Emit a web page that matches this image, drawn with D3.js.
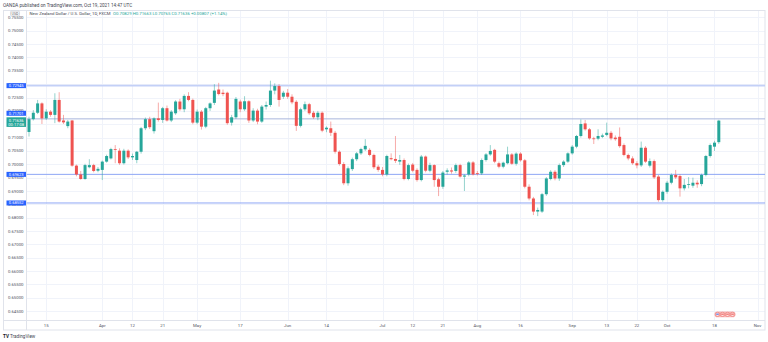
<!DOCTYPE html>
<html><head><meta charset="utf-8">
<script src="https://cdn.jsdelivr.net/npm/d3@7/dist/d3.min.js"></script>
<style>html,body{margin:0;padding:0;background:#fff;} svg{display:block;}</style>
</head><body><svg id="c" width="768" height="342"></svg>
<script>
// ---------- DATA ----------
const firstDay = "2021-03-09";   // first visible daily bar (weekdays only)
const lastAxisDay = "2021-11-12";
const openV = [
0.7121,0.7169,0.7193,0.7228,0.7172,0.7197,0.7185,0.7241,0.7164,0.7143,
0.7164,0.6995,0.6962,0.6945,0.6989,0.6997,0.6976,0.6979,0.7010,0.7022,
0.7057,0.7051,0.7004,0.7051,0.7026,0.7016,0.7047,0.7135,0.7169,0.7124,
0.7172,0.7166,0.7210,0.7164,0.7191,0.7235,0.7206,0.7256,0.7241,0.7156,
0.7197,0.7141,0.7210,0.7230,0.7280,0.7268,0.7268,0.7156,0.7176,0.7235,
0.7206,0.7236,0.7164,0.7201,0.7160,0.7216,0.7222,0.7276,0.7293,0.7253,
0.7268,0.7253,0.7234,0.7144,0.7206,0.7225,0.7193,0.7176,0.7193,0.7131,
0.7135,0.7118,0.7047,0.7001,0.6929,0.6982,0.7019,0.7041,0.7056,0.7054,
0.7035,0.6991,0.6979,0.6962,0.7023,0.7020,0.7010,0.7016,0.6945,0.6999,
0.6979,0.6941,0.7029,0.6976,0.6997,0.6944,0.6916,0.6972,0.6977,0.6975,
0.6997,0.6954,0.6962,0.7007,0.6967,0.6966,0.7016,0.7037,0.7054,0.7004,
0.6991,0.7004,0.7037,0.7002,0.7040,0.7015,0.6916,0.6872,0.6823,0.6823,
0.6888,0.6945,0.6972,0.6947,0.6997,0.7010,0.7041,0.7066,0.7106,0.7153,
0.7131,0.7097,0.7096,0.7103,0.7110,0.7118,0.7100,0.7103,0.7072,0.7035,
0.7022,0.7004,0.6996,0.7062,0.6995,0.7012,0.6954,0.6866,0.6897,0.6931,
0.6960,0.6956,0.6910,0.6923,0.6920,0.6931,0.6926,0.6960,0.7031,0.7066,
0.70829];
const highV = [
0.7178,0.7203,0.7241,0.7232,0.7206,0.7203,0.7266,0.7270,0.7185,0.7166,
0.7166,0.6999,0.6975,0.7002,0.7019,0.7002,0.6990,0.7014,0.7036,0.7062,
0.7072,0.7060,0.7058,0.7056,0.7040,0.7050,0.7140,0.7175,0.7178,0.7176,
0.7231,0.7215,0.7220,0.7203,0.7240,0.7245,0.7262,0.7270,0.7246,0.7205,
0.7203,0.7215,0.7232,0.7300,0.7305,0.7280,0.7272,0.7185,0.7252,0.7242,
0.7255,0.7240,0.7210,0.7208,0.7222,0.7235,0.7313,0.7303,0.7300,0.7275,
0.7282,0.7262,0.7240,0.7212,0.7235,0.7230,0.7200,0.7200,0.7198,0.7142,
0.7160,0.7125,0.7052,0.7008,0.6992,0.7025,0.7046,0.7062,0.7094,0.7060,
0.7040,0.6998,0.6990,0.7036,0.7041,0.7106,0.7035,0.7022,0.7003,0.7005,
0.6985,0.7035,0.7033,0.7006,0.7000,0.6950,0.6975,0.6985,0.6988,0.7003,
0.7002,0.6962,0.7012,0.7012,0.6975,0.7022,0.7042,0.7072,0.7058,0.7010,
0.7010,0.7066,0.7042,0.7045,0.7045,0.7020,0.6925,0.6878,0.6838,0.6893,
0.6952,0.6978,0.6978,0.7003,0.7015,0.7045,0.7072,0.7110,0.7168,0.7166,
0.7136,0.7103,0.7131,0.7115,0.7156,0.7125,0.7108,0.7138,0.7078,0.7040,
0.7030,0.7012,0.7085,0.7068,0.7022,0.7018,0.6960,0.6902,0.6938,0.6966,
0.6979,0.6962,0.6945,0.6952,0.6950,0.6940,0.6965,0.7035,0.7078,0.7088,
0.71663];
const lowV = [
0.7104,0.7164,0.7188,0.7151,0.7166,0.7178,0.7154,0.7156,0.7151,0.7135,
0.6991,0.6955,0.6942,0.6942,0.6985,0.6970,0.6970,0.6941,0.7006,0.7018,
0.7004,0.6998,0.6999,0.7020,0.7016,0.7004,0.7040,0.7128,0.7132,0.7115,
0.7160,0.7155,0.7160,0.7158,0.7185,0.7200,0.7195,0.7236,0.7150,0.7150,
0.7130,0.7135,0.7200,0.7222,0.7258,0.7255,0.7148,0.7145,0.7170,0.7195,
0.7200,0.7155,0.7158,0.7150,0.7155,0.7205,0.7215,0.7262,0.7216,0.7245,
0.7245,0.7225,0.7125,0.7138,0.7200,0.7185,0.7170,0.7165,0.7120,0.7120,
0.7106,0.7040,0.6995,0.6922,0.6920,0.6975,0.7012,0.7035,0.7050,0.7030,
0.6982,0.6972,0.6955,0.6955,0.7015,0.7005,0.6998,0.6940,0.6940,0.6970,
0.6935,0.6936,0.6970,0.6970,0.6916,0.6881,0.6908,0.6962,0.6965,0.6968,
0.6950,0.6900,0.6955,0.6958,0.6958,0.6960,0.7010,0.7032,0.7004,0.6985,
0.6985,0.7000,0.6998,0.6995,0.7010,0.6910,0.6865,0.6810,0.6806,0.6818,
0.6882,0.6940,0.6940,0.6938,0.6990,0.7005,0.7036,0.7060,0.7100,0.7126,
0.7092,0.7076,0.7090,0.7098,0.7105,0.7090,0.7088,0.7062,0.7030,0.7015,
0.6998,0.6985,0.6990,0.7005,0.6988,0.6945,0.6860,0.6860,0.6890,0.6925,
0.6945,0.6879,0.6902,0.6910,0.6912,0.6912,0.6918,0.6955,0.7025,0.7050,
0.70765];
const closeV = [
0.7169,0.7193,0.7228,0.7172,0.7197,0.7185,0.7241,0.7160,0.7157,0.7160,
0.6995,0.6962,0.6945,0.6997,0.6997,0.6975,0.6983,0.7010,0.7031,0.7057,
0.7055,0.7004,0.7051,0.7026,0.7031,0.7047,0.7135,0.7169,0.7139,0.7172,
0.7166,0.7210,0.7164,0.7197,0.7235,0.7206,0.7256,0.7241,0.7156,0.7197,
0.7141,0.7210,0.7228,0.7276,0.7263,0.7263,0.7154,0.7176,0.7245,0.7206,
0.7236,0.7164,0.7201,0.7160,0.7216,0.7222,0.7276,0.7293,0.7241,0.7268,
0.7253,0.7232,0.7144,0.7206,0.7225,0.7191,0.7176,0.7193,0.7126,0.7137,
0.7118,0.7047,0.7001,0.6929,0.6985,0.7019,0.7041,0.7057,0.7069,0.7035,
0.6989,0.6979,0.6962,0.7031,0.7019,0.7013,0.7016,0.6945,0.6997,0.6976,
0.6941,0.7029,0.6976,0.6997,0.6941,0.6916,0.6969,0.6977,0.6973,0.6997,
0.6954,0.6958,0.7007,0.6962,0.6965,0.7016,0.7037,0.7050,0.7010,0.6991,
0.7006,0.7037,0.7002,0.7040,0.7015,0.6916,0.6872,0.6823,0.6829,0.6888,
0.6947,0.6972,0.6947,0.6997,0.7010,0.7041,0.7066,0.7106,0.7151,0.7131,
0.7097,0.7094,0.7106,0.7108,0.7118,0.7097,0.7094,0.7068,0.7035,0.7022,
0.7004,0.6996,0.7062,0.7010,0.7012,0.6951,0.6866,0.6897,0.6931,0.6960,
0.6951,0.6910,0.6923,0.6926,0.6931,0.6925,0.6960,0.7031,0.7072,0.7081,
0.71636];
const yTicks = [0.645,0.650,0.655,0.660,0.665,0.670,0.675,0.680,0.685,0.690,0.695,
                0.700,0.705,0.710,0.715,0.720,0.725,0.730,0.735,0.740,0.745,0.750,0.755];
const xTickDates  = ["2021-03-15","2021-04-01","2021-04-12","2021-04-21","2021-05-03","2021-05-17",
                     "2021-06-01","2021-06-14","2021-07-01","2021-07-12","2021-07-21","2021-08-02",
                     "2021-08-16","2021-09-01","2021-09-13","2021-09-22","2021-10-01","2021-10-18","2021-11-01"];
const xTickLabels = ["15","Apr","12","21","May","17","Jun","14","Jul","12","21","Aug",
                     "16","Sep","13","22","Oct","18","Nov"];
const levelLines  = [0.72945, 0.71701, 0.69623, 0.68552];
const lastPrice = 0.71636;
const countdown = "00:17:08";
const headerText = "OANDA published on TradingView.com, Oct 19, 2021 14:47 UTC";
const titleText = "New Zealand Dollar / U.S. Dollar, 1D, FXCM";
const ohlcText = "O0.70829 H0.71663 L0.70765 C0.71636 +0.00807 (+1.14%)";

// ---------- SETUP ----------
const FONT = "Roboto, 'Liberation Sans', Arial, sans-serif";
const UP = "#26a69a", DOWN = "#ef5350", GRID = "#f0f3fa", BORDER = "#e0e3eb", TXT = "#50535e";
const svg = d3.select("#c");
const L = 26.5, R = 765, T = 10, B = 320.5;

const parse = d3.utcParse("%Y-%m-%d");
const days = d3.utcDays(parse(firstDay), parse(lastAxisDay)).filter(d => d.getUTCDay() !== 0 && d.getUTCDay() !== 6);
const dayIndex = new Map(days.map((d, i) => [+d, i]));

const x = d3.scaleLinear().domain([0, 169]).range([29, 757.6]);
const y = d3.scaleLinear().domain([0.645, 0.755]).range([311.2, 17.4]);

const candles = closeV.map((c, i) => ({i, o: openV[i], h: highV[i], l: lowV[i], c}));

// clip
svg.append("defs").append("clipPath").attr("id", "plot")
  .append("rect").attr("x", L).attr("y", T).attr("width", R - L).attr("height", B - T);

// grid
const grid = svg.append("g");
grid.selectAll("line.h").data(yTicks).join("line")
  .attr("x1", L).attr("x2", R).attr("y1", d => Math.round(y(d)) + 0.5).attr("y2", d => Math.round(y(d)) + 0.5)
  .attr("stroke", GRID).attr("stroke-width", 1);
const xTickIdx = xTickDates.map(s => dayIndex.get(+parse(s)));
grid.selectAll("line.v").data(xTickIdx).join("line")
  .attr("x1", d => Math.round(x(d)) + 0.5).attr("x2", d => Math.round(x(d)) + 0.5).attr("y1", T).attr("y2", B)
  .attr("stroke", GRID).attr("stroke-width", 1);

// panel borders
svg.append("rect").attr("x", 3.5).attr("y", T + 0.5).attr("width", R - 3.5).attr("height", 330 - T - 0.5)
  .attr("fill", "none").attr("stroke", BORDER);
svg.append("line").attr("x1", L).attr("x2", L).attr("y1", T).attr("y2", 330).attr("stroke", BORDER);
svg.append("line").attr("x1", 3.5).attr("x2", R).attr("y1", B).attr("y2", B).attr("stroke", BORDER);

// level lines
const plot = svg.append("g").attr("clip-path", "url(#plot)");
plot.selectAll("line.lvl").data(levelLines).join("line")
  .attr("x1", L).attr("x2", R).attr("y1", d => y(d)).attr("y2", d => y(d))
  .attr("stroke", (d, i) => i === 0 ? "#c3d0f7" : i === 1 ? "#a9b6dd" : "#8ea6f5")
  .attr("stroke-width", (d, i) => i === 0 ? 1.8 : 1);

// candles
const cg = plot.append("g");
cg.selectAll("line.w").data(candles).join("line")
  .attr("x1", d => x(d.i)).attr("x2", d => x(d.i))
  .attr("y1", d => y(d.h)).attr("y2", d => y(d.l))
  .attr("stroke", d => d.c >= d.o ? UP : DOWN).attr("stroke-width", 0.9).attr("stroke-opacity", 0.55);
const bw = 3;
cg.selectAll("rect.b").data(candles).join("rect")
  .attr("x", d => x(d.i) - bw / 2).attr("width", bw)
  .attr("y", d => y(Math.max(d.o, d.c)))
  .attr("height", d => Math.max(0.8, Math.abs(y(d.o) - y(d.c))))
  .attr("fill", d => d.c >= d.o ? UP : DOWN);

// y axis labels
svg.append("g").selectAll("text").data(yTicks).join("text")
  .attr("x", 23.5).attr("y", d => y(d)).attr("dy", "0.35em").attr("text-anchor", "end")
  .attr("font-family", FONT).attr("font-size", 4.3).attr("fill", TXT)
  .text(d => d3.format(".5f")(d));

// x axis labels
svg.append("g").selectAll("text").data(xTickIdx).join("text")
  .attr("x", d => x(d)).attr("y", 325.3).attr("dy", "0.35em").attr("text-anchor", "middle")
  .attr("font-family", FONT).attr("font-size", 4.3).attr("fill", TXT)
  .text((d, i) => xTickLabels[i]);

// price labels on axis
const labelPos = [y(levelLines[0]), y(levelLines[1]) - 5.6, y(levelLines[2]), y(levelLines[3])];
const lg = svg.append("g");
levelLines.forEach((v, i) => {
  const cy = labelPos[i];
  lg.append("rect").attr("x", 6.5).attr("y", cy - 2.5).attr("width", 19.5).attr("height", 5).attr("fill", "#2962ff");
  lg.append("text").attr("x", 16.2).attr("y", cy).attr("dy", "0.35em").attr("text-anchor", "middle")
    .attr("font-family", FONT).attr("font-size", 4.1).attr("fill", "#fff").text(d3.format(".5f")(v));
});
const gy = y(lastPrice);
lg.append("rect").attr("x", 6.5).attr("y", gy - 3.3).attr("width", 19.5).attr("height", 9.6).attr("fill", UP);
lg.append("text").attr("x", 16.2).attr("y", gy - 0.4).attr("dy", "0.35em").attr("text-anchor", "middle")
  .attr("font-family", FONT).attr("font-size", 4.1).attr("fill", "#fff").text(d3.format(".5f")(lastPrice));
lg.append("text").attr("x", 16.2).attr("y", gy + 3.9).attr("dy", "0.35em").attr("text-anchor", "middle")
  .attr("font-family", FONT).attr("font-size", 4.1).attr("fill", "#fff").text(countdown);

// header texts
svg.append("text").attr("x", 3).attr("y", 5.2).attr("dy", "0.35em")
  .attr("font-family", FONT).attr("font-size", 4.6).attr("fill", "#434651").text(headerText);
svg.append("rect").attr("x", 10.5).attr("y", 11.2).attr("width", 9).attr("height", 4.6).attr("rx", 1)
  .attr("fill", "#fff").attr("stroke", "#b2b5be").attr("stroke-width", 0.5);
svg.append("text").attr("x", 15).attr("y", 13.5).attr("dy", "0.35em").attr("text-anchor", "middle")
  .attr("font-family", FONT).attr("font-size", 3.6).attr("fill", TXT).text("USD");
const tt = svg.append("text").attr("x", 29.5).attr("y", 13.7).attr("dy", "0.35em")
  .attr("font-family", FONT).attr("font-size", 4.3).attr("fill", "#434651");
tt.append("tspan").text(titleText);
tt.append("tspan").attr("x", 113).attr("fill", UP).text(ohlcText);

// event markers pill near the bottom
const ev = svg.append("g");
ev.append("rect").attr("x", 714.5).attr("y", 311.6).attr("width", 21).attr("height", 5.6).attr("rx", 2.8)
  .attr("fill", "#f7b4b2");
[717.5, 722.5, 727.5, 732.5].forEach((cx, i) => {
  ev.append("circle").attr("cx", cx).attr("cy", 314.4).attr("r", 2.1)
    .attr("fill", "#fbe3e3").attr("stroke", "#ef6a67").attr("stroke-width", 0.6);
  ev.append("rect").attr("x", cx - 1.3).attr("y", 313.6).attr("width", 2.6).attr("height", 1.2)
    .attr("fill", i === 0 ? "#5b7be8" : "#ef6a67");
});

// footer logo
const ft = svg.append("text").attr("x", 3).attr("y", 336).attr("dy", "0.35em")
  .attr("font-family", FONT).attr("font-size", 4.6).attr("fill", "#131722");
ft.append("tspan").attr("font-weight", "bold").text("TV ");
ft.append("tspan").attr("fill", "#434651").text("TradingView");
</script></body></html>
